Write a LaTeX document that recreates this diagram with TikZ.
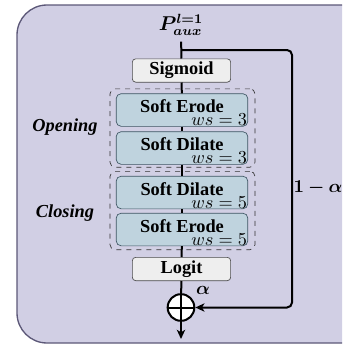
\documentclass[tikz,border=0pt]{standalone}
\usepackage{fontspec}
\setmainfont{Liberation Serif}
\usepackage{amsmath}
\usepackage{bm}
\usetikzlibrary{shapes,arrows,arrows.meta,positioning,calc}
\definecolor{panelfill}{HTML}{D1CFE4}
\definecolor{paneldraw}{HTML}{5C5878}
\definecolor{morphfill}{HTML}{BFD3DE}
\definecolor{morphdraw}{HTML}{3E5563}
\definecolor{gatefill}{HTML}{EEEEEE}
\newcommand{\diagfont}{\fontsize{11}{13}\selectfont}
\tikzstyle{gate} = [rectangle, rounded corners=2pt, minimum width=59pt, minimum height=14pt, inner sep=1pt, text centered, draw=black!70, fill=gatefill, font=\diagfont\bfseries]
\tikzstyle{morph} = [rectangle, rounded corners=3pt, minimum width=79pt, minimum height=19.6pt, inner sep=1pt, text height=7.5pt, text depth=4.5pt, text centered, draw=morphdraw, fill=morphfill, font=\diagfont\bfseries]
\tikzstyle{group} = [rectangle, rounded corners=3pt, dashed, draw=black!80, minimum width=87pt, minimum height=47pt]
\tikzstyle{ws} = [anchor=south east, inner sep=0.5pt, font=\diagfont]
\tikzstyle{side} = [font=\diagfont\bfseries\itshape]
\tikzstyle{line} = [line width=1.2pt]
\tikzstyle{arrow} = [line width=1.2pt,-{Stealth[length=5.5pt,width=5pt,inset=1.5pt]}]

\begin{document}
\begin{tikzpicture}[x=0.6pt, y=-0.6pt]
\useasboundingbox (0,0) rectangle (342,350);

% panel
\begin{scope}
\clip (0,0) rectangle (342,350);
\draw[draw=paneldraw, fill=panelfill, line width=0.8pt, rounded corners=18pt] (17,5) rectangle (380,343);
\end{scope}

% groups
\node (opengrp) [group] at (182.5,128) {};
\node (closegrp) [group] at (182.5,210.5) {};

% main chain
\node (paux) [font=\large] at (181,25) {$\bm{P}^{\bm{l=1}}_{\bm{aux}}$};
\node (sigmoid) [gate] at (181.5,70.5) {Sigmoid};
\node (erodeA) [morph, label={[ws]south east:$ws=3$}] at (182,110) {Soft Erode};
\node (dilateA) [morph, label={[ws]south east:$ws=3$}] at (182,148) {Soft Dilate};
\node (dilateB) [morph, label={[ws]south east:$ws=5$}] at (182,192.5) {Soft Dilate};
\node (erodeB) [morph, label={[ws]south east:$ws=5$}] at (182,229.5) {Soft Erode};
\node (logit) [gate] at (181.5,269) {Logit};
\node (sum) [circle, draw, line width=1.2pt, fill=white, minimum size=16pt, inner sep=0pt] at (181,307.5) {};
\coordinate (out) at (181,339);
\coordinate (split) at (181,50);
\coordinate (skip) at (292,50);

% side labels
\node (opening) [side] at (65,127) {Opening};
\node (closing) [side] at (65,213) {Closing};
\node (oneminus) [font=\diagfont] at (318,188) {$\bm{1-\alpha}$};
\node (alpha) [font=\diagfont] at (203,290) {$\bm{\alpha}$};

% lines
\draw [line] (paux) -- (sigmoid);
\draw [line] (sigmoid) -- (erodeA);
\draw [line] (erodeA) -- (dilateA);
\draw [line] (dilateA) -- (dilateB);
\draw [line] (dilateB) -- (erodeB);
\draw [line] (erodeB) -- (logit);
\draw [line] (logit) -- (sum);
\draw [line] (sum.north) -- (sum.south);
\draw [line] (sum.west) -- (sum.east);
\draw [arrow] (sum) -- (out);
\draw [arrow, rounded corners=3pt] (split) -- (skip) |- (sum);

\end{tikzpicture}
\end{document}
